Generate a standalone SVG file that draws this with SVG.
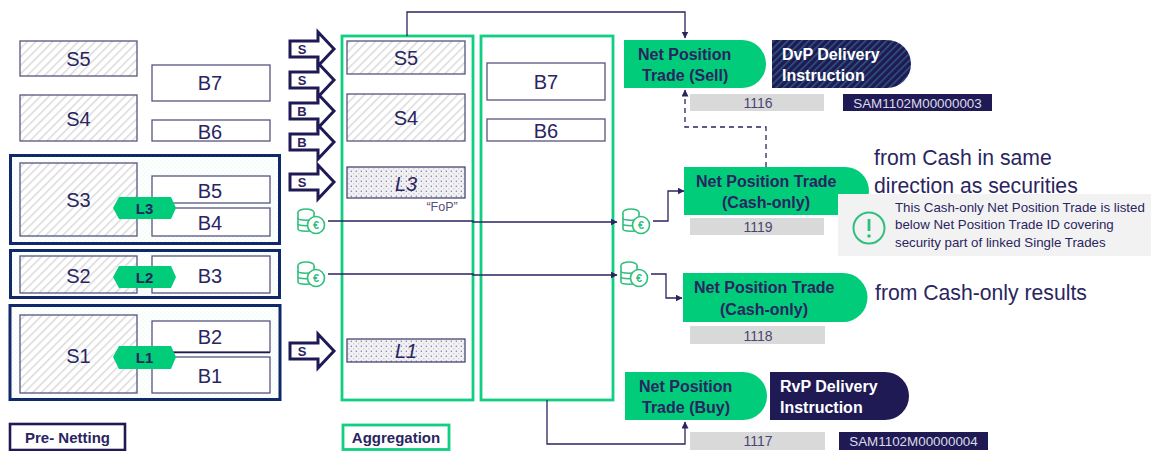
<svg xmlns="http://www.w3.org/2000/svg" width="1151" height="451" viewBox="0 0 1151 451">
<style>
text{font-family:"Liberation Sans",Arial,sans-serif;fill:#2a2560;text-anchor:middle}
.box{fill:#fff;stroke:#58547f;stroke-width:1.3}
.sell{fill:url(#hatch);stroke:#58547f;stroke-width:1.3}
.lbl{font-size:20px}
.frame{fill:url(#faint);stroke:#10296a;stroke-width:3}
.green{fill:none;stroke:#10cf80;stroke-width:2.8}
.hex{fill:#00cc7a}
.hext{font-size:15px;font-weight:bold}
.arrow{fill:#fff;stroke:#1f1a54;stroke-width:3}
.arrt{font-size:13px;font-weight:bold}
.trade{fill:#00cc7a}
.tt{font-size:16px;font-weight:bold;text-anchor:start}
.id{fill:#d9d9d9}
.idt{font-size:14px;fill:#4a4670}
.sam{fill:#1f1a54}
.samt{font-size:13.4px;fill:#dcdbe8}
.wt{fill:#fff;font-size:16px;font-weight:bold;text-anchor:start}
.note{font-size:21.2px;text-anchor:start}
.small{font-size:13.3px;text-anchor:start}
.con{fill:none;stroke:#2a2560;stroke-width:1.3}
.coin{fill:#fff;stroke:#2fbf7c;stroke-width:1.6}
</style>
<defs>
<pattern id="hatch" width="6" height="6" patternUnits="userSpaceOnUse" patternTransform="rotate(45)"><rect width="6" height="6" fill="#fff"/><rect width="1.4" height="6" fill="#d8d8d8"/></pattern>
<pattern id="dark" width="5" height="5" patternUnits="userSpaceOnUse" patternTransform="rotate(45)"><rect width="5" height="5" fill="#1f1a54"/><rect width="1.5" height="5" fill="#2d5a80"/></pattern>
<pattern id="dots" width="5" height="5" patternUnits="userSpaceOnUse"><rect width="5" height="5" fill="#f1f1f3"/><circle cx="1.3" cy="1.3" r=".7" fill="#77749a"/><circle cx="3.8" cy="3.8" r=".5" fill="#a5a3bd"/></pattern>
<pattern id="faint" width="4" height="4" patternUnits="userSpaceOnUse"><rect width="4" height="4" fill="#fff"/><circle cx="1" cy="1" r=".6" fill="#d8f5e8"/><circle cx="3" cy="3" r=".6" fill="#d8f5e8"/></pattern>
<marker id="ah" markerWidth="8" markerHeight="8" refX="6.5" refY="3.5" orient="auto" markerUnits="userSpaceOnUse"><path d="M0 0L7 3.5L0 7Z" fill="#2a2560"/></marker>
<g id="bigarrow"><path class="arrow" d="M0 -8H28V-17L44 0L28 17V8H0Z"/></g>
<g id="coins">
<ellipse class="coin" cx="10" cy="4.500" rx="8" ry="3.500"/>
<path class="coin" d="M2 4.500V21C2 24 18 24 18 21V4.500"/>
<path class="coin" d="M2 10C2 13 18 13 18 10M2 15.500C2 18.500 18 18.500 18 15.500"/>
<circle class="coin" cx="20" cy="17" r="8.500" stroke-width="2"/>
<text x="20" y="21" style="font-size:11px;font-weight:bold;fill:#2fbf7c">€</text>
</g>
</defs>
<rect width="1151" height="451" fill="#fff"/>

<g id="frame-l3"><rect class="frame" x="10.500" y="155.500" width="269" height="88"/></g>
<g id="frame-l2"><rect class="frame" x="10.500" y="250.500" width="269" height="47"/></g>
<g id="frame-l1"><rect class="frame" x="10" y="305.500" width="270" height="94"/></g>

<g id="left-s5"><rect class="sell" x="20" y="41" width="117" height="35"/><text class="lbl" x="78.500" y="66">S5</text></g>
<g id="left-b7"><rect class="box" x="152" y="65" width="118" height="36"/><text class="lbl" x="210" y="90">B7</text></g>
<g id="left-s4"><rect class="sell" x="20" y="95" width="117" height="46"/><text class="lbl" x="78.500" y="126">S4</text></g>
<g id="left-b6"><rect class="box" x="152" y="120" width="118" height="21"/><text class="lbl" x="210" y="139">B6</text></g>
<g id="left-s3"><rect class="sell" x="20" y="163" width="117" height="73"/><text class="lbl" x="78.500" y="207">S3</text></g>
<g id="left-b5"><rect class="box" x="152" y="176" width="118" height="27"/><text class="lbl" x="210" y="198">B5</text></g>
<g id="left-b4"><rect class="box" x="152" y="208" width="118" height="28"/><text class="lbl" x="210" y="230">B4</text></g>
<g id="left-s2"><rect class="sell" x="20" y="256" width="117" height="37"/><text class="lbl" x="78.500" y="283">S2</text></g>
<g id="left-b3"><rect class="box" x="152" y="256" width="118" height="37"/><text class="lbl" x="210" y="283">B3</text></g>
<g id="left-s1"><rect class="sell" x="20" y="315" width="117" height="78"/><text class="lbl" x="78.500" y="363">S1</text></g>
<g id="left-b2"><rect class="box" x="152" y="321" width="118" height="31"/><text class="lbl" x="210" y="344">B2</text></g>
<g id="left-b1"><rect class="box" x="152" y="357" width="118" height="36"/><text class="lbl" x="210" y="383">B1</text></g>
<path d="M170 352.500H270" stroke="#1f1a54" stroke-width="1.500"/>

<g id="hex-l3"><path class="hex" d="M113 208L119 197H171L176 208L171 219H119Z"/><text class="hext" x="144.500" y="214">L3</text></g>
<g id="hex-l2"><path class="hex" d="M113 277L119 266H171L176 277L171 288H119Z"/><text class="hext" x="144.500" y="283">L2</text></g>
<g id="hex-l1"><path class="hex" d="M113 357L119 346H171L176 357L171 369H119Z"/><text class="hext" x="144.500" y="363">L1</text></g>

<g id="arrow-1"><use href="#bigarrow" transform="translate(290 49)"/><text class="arrt" x="302" y="54">S</text></g>
<g id="arrow-2"><use href="#bigarrow" transform="translate(290 80)"/><text class="arrt" x="302" y="85">S</text></g>
<g id="arrow-3"><use href="#bigarrow" transform="translate(290 111)"/><text class="arrt" x="302" y="116">B</text></g>
<g id="arrow-4"><use href="#bigarrow" transform="translate(290 142)"/><text class="arrt" x="302" y="147">B</text></g>
<g id="arrow-5"><use href="#bigarrow" transform="translate(290 182)"/><text class="arrt" x="302" y="187">S</text></g>
<g id="arrow-6"><use href="#bigarrow" transform="translate(290 351)"/><text class="arrt" x="302" y="356">S</text></g>

<g id="agg-sell"><rect class="green" x="342" y="36" width="131" height="364"/></g>
<g id="agg-buy"><rect class="green" x="481" y="36" width="132" height="364"/></g>
<g id="agg-s5"><rect class="sell" x="347" y="41" width="118" height="33"/><text class="lbl" x="406" y="65">S5</text></g>
<g id="agg-s4"><rect class="sell" x="347" y="94" width="118" height="47"/><text class="lbl" x="406" y="125">S4</text></g>
<g id="agg-l3"><rect x="347" y="167" width="118" height="31" fill="url(#dots)" stroke="#3a3668" stroke-width="1.200"/><text class="lbl" x="406" y="191" font-style="italic">L3</text></g>
<g id="agg-l1"><rect x="347" y="339" width="118" height="23" fill="url(#dots)" stroke="#3a3668" stroke-width="1.200"/><text class="lbl" x="406" y="358" font-style="italic">L1</text></g>
<g id="agg-b7"><rect class="box" x="487" y="63" width="118" height="37"/><text class="lbl" x="546" y="89">B7</text></g>
<g id="agg-b6"><rect class="box" x="487" y="119" width="118" height="22"/><text class="lbl" x="546" y="138">B6</text></g>
<text x="442" y="211" style="font-size:12.500px;fill:#55517c">“FoP”</text>

<g id="connectors">
<path class="con" d="M407 36V12H685V38" marker-end="url(#ah)"/>
<path class="con" d="M328 221H473V222H617" marker-end="url(#ah)"/>
<path class="con" d="M328 274H473V275H617" marker-end="url(#ah)"/>
<path class="con" d="M653 221H668V191H684" marker-end="url(#ah)"/>
<path class="con" d="M651 274H666V298H682" marker-end="url(#ah)"/>
<path class="con" d="M766 167V127H685V90" stroke-dasharray="5 4" marker-end="url(#ah)"/>
<path class="con" d="M547 400V444H685V422" marker-end="url(#ah)"/>
</g>

<g id="coin-1"><use href="#coins" transform="translate(296 208)"/></g>
<g id="coin-2"><use href="#coins" transform="translate(296 261)"/></g>
<g id="coin-3"><use href="#coins" transform="translate(621 208)"/></g>
<g id="coin-4"><use href="#coins" transform="translate(619 261)"/></g>

<g id="trade-sell"><path class="trade" d="M624 40H742A24 24 0 0 1 742 88H624Z"/><text class="tt" x="638" y="60">Net Position</text><text class="tt" x="642" y="81">Trade (Sell)</text></g>
<g id="dvp"><path d="M772 40H887A24 24 0 0 1 887 88H772Z" fill="url(#dark)"/><text class="wt" x="782" y="60">DvP Delivery</text><text class="wt" x="782" y="81">Instruction</text></g>
<g id="id-1116"><rect class="id" x="690" y="94" width="134" height="17"/><text class="idt" x="758" y="108">1116</text></g>
<g id="sam-3"><rect class="sam" x="843" y="94" width="149" height="17"/><text class="samt" x="917.500" y="108">SAM1102M00000003</text></g>

<g id="trade-cash-1"><path class="trade" d="M684 167H845A24 24 0 0 1 845 215H684Z"/><text class="tt" x="696" y="187">Net Position Trade</text><text class="tt" x="722" y="208">(Cash-only)</text></g>
<g id="id-1119"><rect class="id" x="690" y="218" width="134" height="17"/><text class="idt" x="758" y="232">1119</text></g>
<g id="note-1"><text class="note" x="874" y="165">from Cash in same</text><text class="note" x="874" y="193">direction as securities</text></g>
<g id="callout"><rect x="838" y="194" width="313" height="62" fill="#f2f2f2"/>
<circle cx="869" cy="228" r="15.500" fill="none" stroke="#2fbf7c" stroke-width="2"/><path d="M869 219V231" stroke="#2fbf7c" stroke-width="2.800"/><circle cx="869" cy="236" r="1.800" fill="#2fbf7c"/>
<text class="small" x="895" y="212">This Cash-only Net Position Trade is listed</text><text class="small" x="895" y="229">below Net Position Trade ID covering</text><text class="small" x="895" y="247">security part of linked Single Trades</text></g>

<g id="trade-cash-2"><path class="trade" d="M683 273H843A24.500 24.500 0 0 1 843 322H683Z"/><text class="tt" x="694" y="293">Net Position Trade</text><text class="tt" x="720" y="315">(Cash-only)</text></g>
<g id="id-1118"><rect class="id" x="690" y="326" width="135" height="18"/><text class="idt" x="758" y="341">1118</text></g>
<text class="note" x="875" y="300">from Cash-only results</text>

<g id="trade-buy"><path class="trade" d="M625 372H743A24 24 0 0 1 743 420H625Z"/><text class="tt" x="639" y="392">Net Position</text><text class="tt" x="642" y="413">Trade (Buy)</text></g>
<g id="rvp"><path class="sam" d="M770 372H885A24 24 0 0 1 885 420H770Z"/><text class="wt" x="780" y="392">RvP Delivery</text><text class="wt" x="780" y="413">Instruction</text></g>
<g id="id-1117"><rect class="id" x="690" y="432" width="135" height="18"/><text class="idt" x="758" y="446">1117</text></g>
<g id="sam-4"><rect class="sam" x="839" y="432" width="149" height="18"/><text class="samt" x="913.500" y="446">SAM1102M00000004</text></g>

<g id="legend-pre"><rect x="10" y="424" width="115" height="26" fill="#fff" stroke="#1f1a54" stroke-width="2.600"/><text x="67.500" y="443" style="font-size:15px;font-weight:bold">Pre- Netting</text></g>
<g id="legend-agg"><rect x="343" y="425" width="106" height="24.500" fill="#fff" stroke="#10cf80" stroke-width="2.800"/><text x="396" y="443" style="font-size:15px;font-weight:bold">Aggregation</text></g>
</svg>
